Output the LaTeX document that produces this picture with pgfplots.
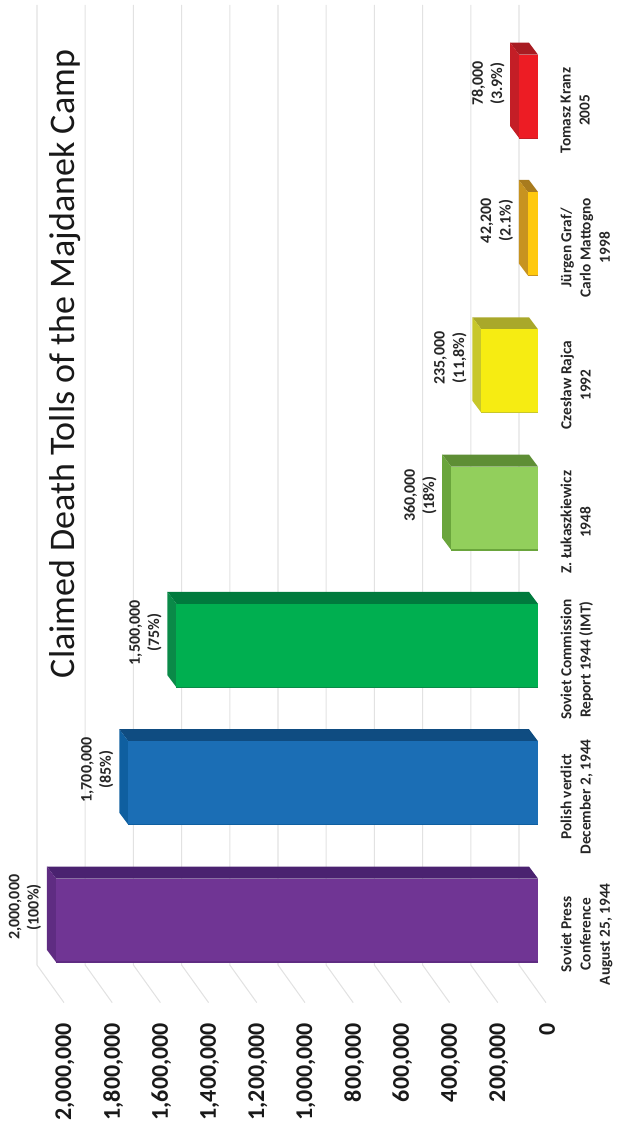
\documentclass[border=0pt]{standalone}
\usepackage{pgfplots}
\pgfplotsset{compat=1.18}
\usepackage{fontspec}
\setmainfont{Carlito}
\definecolor{gridc}{HTML}{E2E2E2}
\definecolor{pF}{HTML}{703594}\definecolor{pS}{HTML}{5F2C82}\definecolor{pT}{HTML}{4A2270}
\definecolor{bF}{HTML}{1B6EB5}\definecolor{bS}{HTML}{0F5FA0}\definecolor{bT}{HTML}{0F4C81}
\definecolor{gF}{HTML}{00AF50}\definecolor{gS}{HTML}{0A8A48}\definecolor{gT}{HTML}{007A3D}
\definecolor{lF}{HTML}{92CF5C}\definecolor{lS}{HTML}{6AA53C}\definecolor{lT}{HTML}{5E8E35}
\definecolor{yF}{HTML}{F6EC12}\definecolor{yS}{HTML}{C8C72A}\definecolor{yT}{HTML}{A9A82A}
\definecolor{oF}{HTML}{FFC90E}\definecolor{oS}{HTML}{C79320}\definecolor{oT}{HTML}{A87B1E}
\definecolor{rF}{HTML}{ED1C24}\definecolor{rS}{HTML}{C41E26}\definecolor{rT}{HTML}{A81C22}
\newcommand{\Bar}[6]{%
  \pgfmathsetmacro\yt{#1+0.304}%
  \pgfmathsetmacro\yb{#1-0.304}%
  \pgfmathsetmacro\yo{#1+0.3914}%
  \pgfmathsetmacro\ybo{#1-0.2166}%
  \addplot[fill=#6,draw=none,forget plot] coordinates {(#2,\yt)(#3,\yo)(37344,\yo)(0,\yt)} --cycle;
  \addplot[fill=#5,draw=none,forget plot] coordinates {(#2,\yt)(#3,\yo)(#3,\ybo)(#2,\yb)} --cycle;
  \addplot[xbar,bar width=62.6pt,bar shift=0pt,fill=#4,draw=none,forget plot] coordinates {(#2,#1)};
  \addplot[#5,line width=.9pt,forget plot] coordinates {(#2,\yb)(0,\yb)};
}
\newcommand{\Lbl}[3]{\node[font=\bfseries\fontsize{12}{14.5}\selectfont,color=black!85,align=center,xshift=-23.25pt,yshift=9.75pt,rotate=90,anchor=center] at (axis cs:#1,#2) {#3};}
\begin{document}
\begin{tikzpicture}
\path[use as bounding box] (0,0) rectangle (463.5pt,842.25pt);
\begin{axis}[
  at={(15pt,78.75pt)},anchor=south west,
  scale only axis,width=401.25pt,height=763.5pt,
  x dir=reverse,
  xmin=-70539,xmax=2149378,
  ymin=-0.7119,ymax=6.7025,
  clip=false,
  axis line style={draw=none},
  major tick length=0pt,
  scaled x ticks=false,
  xtick={0,200000,400000,600000,800000,1000000,1200000,1400000,1600000,1800000,2000000},
  /pgf/number format/.cd,fixed,1000 sep={,},assume math mode=true,
  /pgfplots/.cd,
  x tick label style={xshift=6.75pt,yshift=-3.5pt,rotate=90,anchor=east,inner sep=0pt,font=\bfseries\fontsize{18}{20}\selectfont,color=black!90},
  ytick={0,1,2,3,4,5,6},
  yticklabel pos=right,
  yticklabels={{Soviet Press\\Conference\\August 25, 1944},{Polish verdict\\December 2, 1944},{Soviet Commission\\Report 1944 (IMT)},{Z. Łukaszkiewicz\\1948},{Czesław Rajca\\1992},{Jürgen Graf/\\Carlo Mattogno\\1998},{Tomasz Kranz\\2005}},
  y tick label style={xshift=4pt,yshift=-10.5pt,rotate=90,anchor=north,align=center,inner sep=0pt,font=\bfseries\fontsize{11.5}{14.4}\selectfont,color=black!85},
]
% back wall and floor grid
\addplot[gridc,line width=.8pt,forget plot] coordinates {(78838,6.666)(78838,-0.326)(-33195,-0.6)};
\addplot[gridc,line width=.8pt,forget plot] coordinates {(278838,6.666)(278838,-0.326)(166805,-0.6)};
\addplot[gridc,line width=.8pt,forget plot] coordinates {(478838,6.666)(478838,-0.326)(366805,-0.6)};
\addplot[gridc,line width=.8pt,forget plot] coordinates {(678838,6.666)(678838,-0.326)(566805,-0.6)};
\addplot[gridc,line width=.8pt,forget plot] coordinates {(878838,6.666)(878838,-0.326)(766805,-0.6)};
\addplot[gridc,line width=.8pt,forget plot] coordinates {(1078838,6.666)(1078838,-0.326)(966805,-0.6)};
\addplot[gridc,line width=.8pt,forget plot] coordinates {(1278838,6.666)(1278838,-0.326)(1166805,-0.6)};
\addplot[gridc,line width=.8pt,forget plot] coordinates {(1478838,6.666)(1478838,-0.326)(1366805,-0.6)};
\addplot[gridc,line width=.8pt,forget plot] coordinates {(1678838,6.666)(1678838,-0.326)(1566805,-0.6)};
\addplot[gridc,line width=.8pt,forget plot] coordinates {(1878838,6.666)(1878838,-0.326)(1766805,-0.6)};
\addplot[gridc,line width=.8pt,forget plot] coordinates {(2078838,6.666)(2078838,-0.326)(1966805,-0.6)};
% bars: index, value, value + depth, front, side, top
\Bar{0}{2000000}{2037344}{pF}{pS}{pT}
\Bar{1}{1700000}{1737344}{bF}{bS}{bT}
\Bar{2}{1500000}{1537344}{gF}{gS}{gT}
\Bar{3}{360000}{397344}{lF}{lS}{lT}
\Bar{4}{235000}{272344}{yF}{yS}{yT}
\Bar{5}{42200}{79544}{oF}{oS}{oT}
\Bar{6}{78000}{115344}{rF}{rS}{rT}
\Lbl{2000000}{0}{2,000,000\\(100\%)}
\Lbl{1700000}{1}{1,700,000\\(85\%)}
\Lbl{1500000}{2}{1,500,000\\(75\%)}
\Lbl{360000}{3}{360,000\\(18\%)}
\Lbl{235000}{4}{235,000\\(11,8\%)}
\Lbl{42200}{5}{42,200\\(2.1\%)}
\Lbl{78000}{6}{78,000\\(3.9\%)}
\node[rotate=90,font=\fontsize{27}{30}\selectfont,color=black!90] at (axis cs:1962656,4.051) {Claimed Death Tolls of the Majdanek Camp};
\end{axis}
\end{tikzpicture}
\end{document}
